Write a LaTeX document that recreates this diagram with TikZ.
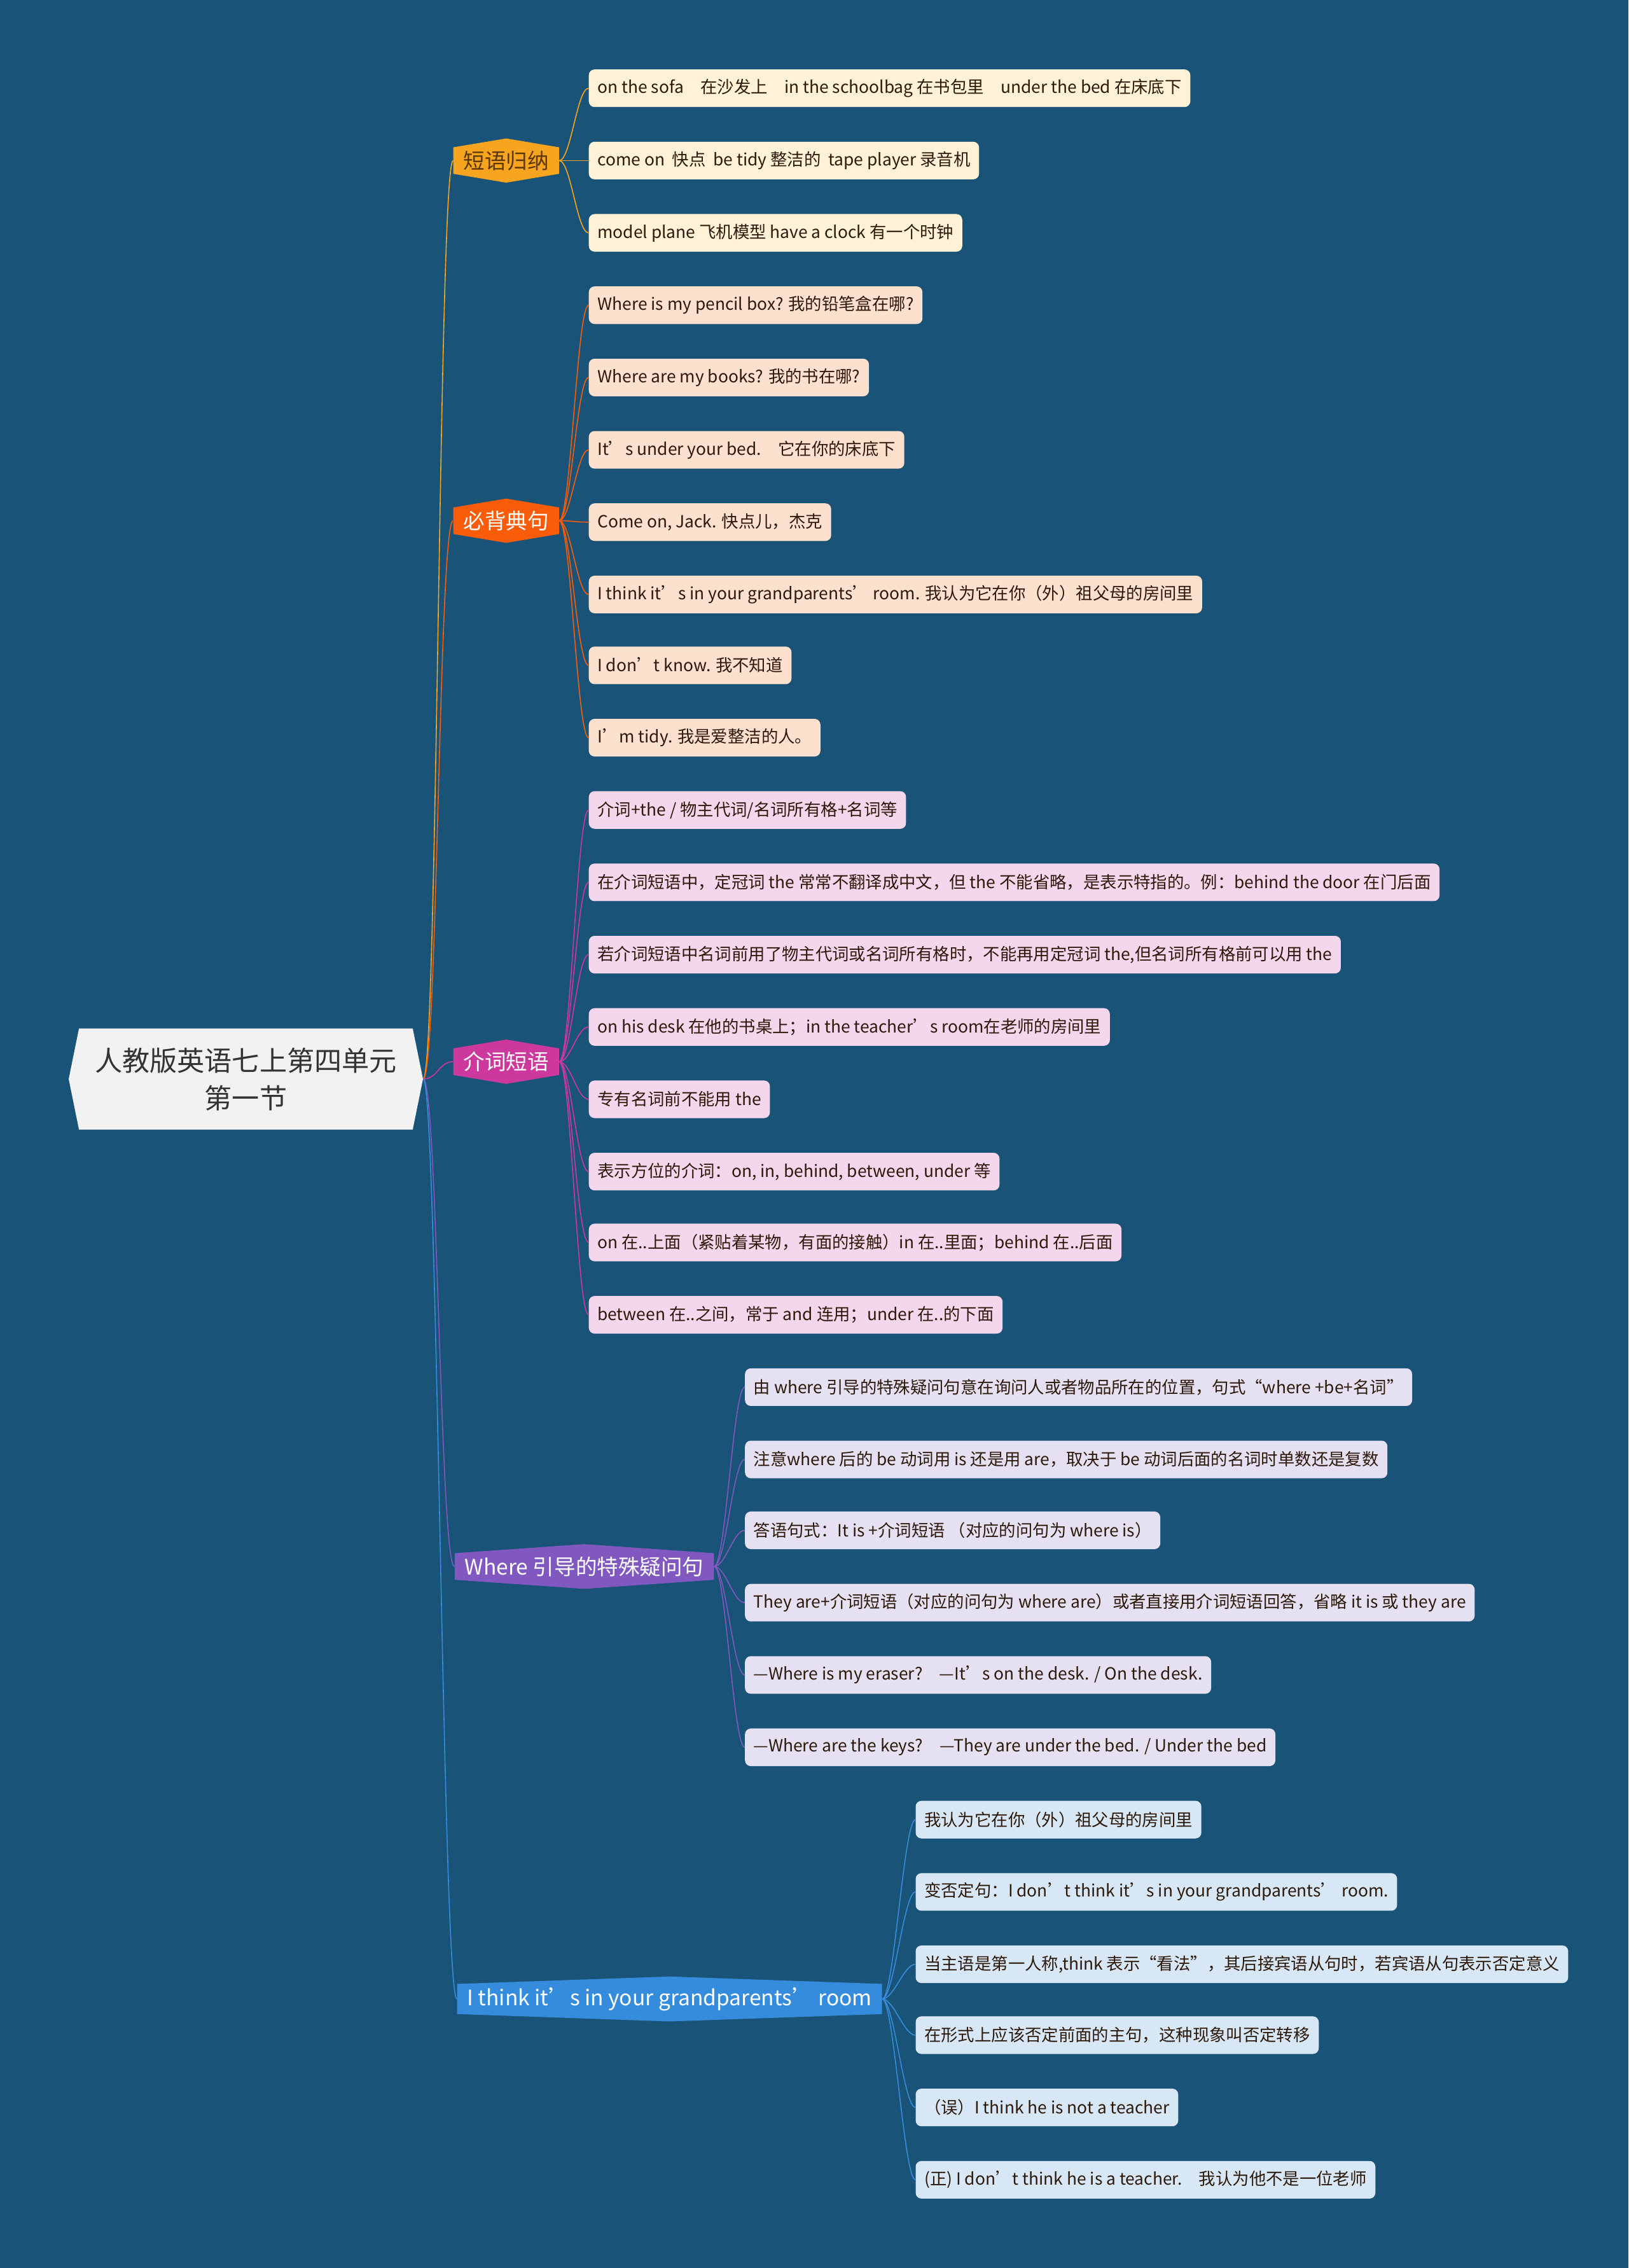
\documentclass[tikz,border=0pt]{standalone}
\usepackage{fontspec}
\setmainfont{Noto Sans CJK SC}
\usetikzlibrary{shapes.symbols}
\definecolor{bg}{RGB}{26,83,120}
\definecolor{rootfill}{RGB}{242,242,242}
\definecolor{cA}{RGB}{247,165,30}
\definecolor{lA}{RGB}{255,242,214}
\definecolor{cB}{RGB}{250,92,10}
\definecolor{lB}{RGB}{253,224,206}
\definecolor{cC}{RGB}{204,56,156}
\definecolor{lC}{RGB}{244,215,236}
\definecolor{cD}{RGB}{128,88,192}
\definecolor{lD}{RGB}{229,224,242}
\definecolor{cE}{RGB}{54,140,220}
\definecolor{lE}{RGB}{215,231,245}
\definecolor{ink}{RGB}{45,25,10}
\definecolor{brown}{RGB}{90,55,0}

\begin{document}
\begin{tikzpicture}[x=.05cm,y=-.05cm,
 leaf/.style={anchor=west,rounded corners=.2cm,inner xsep=.3cm,minimum height=1.3cm,text=ink,font=\fontsize{16.5}{20}\selectfont},
 branch/.style={shape=signal,signal to=north and south,minimum height=1.5cm,inner xsep=.35cm,text=white,font=\fontsize{21}{24}\selectfont},
 conn/.style={line width=1pt}]
 \fill[bg] (0,0) rectangle (1126,1568);
 % root
 \node[shape=signal,signal to=east and west,signal pointer angle=157,fill=rootfill,text=black!80,align=center,minimum width=12.25cm,minimum height=3.5cm,font=\fontsize{27}{37}\selectfont] (root) at (170,746) {人教版英语七上第四单元\\第一节};
 % branches
 \node[branch,signal pointer angle=161,fill=cA,text=brown] (bA) at (350,111) {短语归纳};
 \node[branch,signal pointer angle=161,fill=cB] (bB) at (350,360) {必背典句};
 \node[branch,signal pointer angle=161,fill=cC] (bC) at (350,734) {介词短语};
 \node[branch,signal pointer angle=172,fill=cD] (bD) at (404,1083) {Where 引导的特殊疑问句};
 \node[branch,signal pointer angle=176,fill=cE] (bE) at (463,1382) {I think it’s in your grandparents’ room};
 % 短语归纳
 \node[leaf,fill=lA] (a1) at (407,61) {on the sofa　在沙发上　in the schoolbag 在书包里　under the bed 在床底下};
 \node[leaf,fill=lA] (a2) at (407,111) {come on\ \ 快点\ \ be tidy 整洁的\ \ tape player 录音机};
 \node[leaf,fill=lA] (a3) at (407,161) {model plane 飞机模型 have a clock 有一个时钟};
 % 必背典句
 \node[leaf,fill=lB] (b1) at (407,211) {Where is my pencil box? 我的铅笔盒在哪?};
 \node[leaf,fill=lB] (b2) at (407,261) {Where are my books? 我的书在哪?};
 \node[leaf,fill=lB] (b3) at (407,311) {It’s under your bed.　它在你的床底下};
 \node[leaf,fill=lB] (b4) at (407,361) {Come on, Jack. 快点儿，杰克};
 \node[leaf,fill=lB] (b5) at (407,411) {I think it’s in your grandparents’ room. 我认为它在你（外）祖父母的房间里};
 \node[leaf,fill=lB] (b6) at (407,460) {I don’t know. 我不知道};
 \node[leaf,fill=lB] (b7) at (407,510) {I’m tidy. 我是爱整洁的人。};
 % 介词短语
 \node[leaf,fill=lC] (c1) at (407,560) {介词+the / 物主代词/名词所有格+名词等};
 \node[leaf,fill=lC] (c2) at (407,610) {在介词短语中，定冠词 the 常常不翻译成中文，但 the 不能省略，是表示特指的。例：behind the door 在门后面};
 \node[leaf,fill=lC] (c3) at (407,660) {若介词短语中名词前用了物主代词或名词所有格时，不能再用定冠词 the,但名词所有格前可以用 the};
 \node[leaf,fill=lC] (c4) at (407,710) {on his desk 在他的书桌上；in the teacher’s room在老师的房间里};
 \node[leaf,fill=lC] (c5) at (407,760) {专有名词前不能用 the};
 \node[leaf,fill=lC] (c6) at (407,810) {表示方位的介词：on, in, behind, between, under 等};
 \node[leaf,fill=lC] (c7) at (407,859) {on 在..上面（紧贴着某物，有面的接触）in 在..里面；behind 在..后面};
 \node[leaf,fill=lC] (c8) at (407,909) {between 在..之间，常于 and 连用；under 在..的下面};
 % Where
 \node[leaf,fill=lD] (d1) at (515,959) {由 where 引导的特殊疑问句意在询问人或者物品所在的位置，句式“where +be+名词”};
 \node[leaf,fill=lD] (d2) at (515,1009) {注意where 后的 be 动词用 is 还是用 are，取决于 be 动词后面的名词时单数还是复数};
 \node[leaf,fill=lD] (d3) at (515,1058) {答语句式：It is +介词短语 （对应的问句为 where is）};
 \node[leaf,fill=lD] (d4) at (515,1108) {They are+介词短语（对应的问句为 where are）或者直接用介词短语回答，省略 it is 或 they are};
 \node[leaf,fill=lD] (d5) at (515,1158) {—Where is my eraser?　—It’s on the desk. / On the desk.};
 \node[leaf,fill=lD] (d6) at (515,1208) {—Where are the keys?　—They are under the bed. / Under the bed};
 % I think
 \node[leaf,fill=lE] (e1) at (633,1258) {我认为它在你（外）祖父母的房间里};
 \node[leaf,fill=lE] (e2) at (633,1308) {变否定句：I don’t think it’s in your grandparents’ room.};
 \node[leaf,fill=lE] (e3) at (633,1358) {当主语是第一人称,think 表示“看法”，其后接宾语从句时，若宾语从句表示否定意义};
 \node[leaf,fill=lE] (e4) at (633,1407) {在形式上应该否定前面的主句，这种现象叫否定转移};
 \node[leaf,fill=lE] (e5) at (633,1457) {（误）I think he is not a teacher};
 \node[leaf,fill=lE] (e6) at (633,1507) {(正) I don’t think he is a teacher.　我认为他不是一位老师};
 % connectors
 \foreach \b/\c in {bA/cA,bB/cB,bC/cC,bD/cD,bE/cE}
  \draw[conn,\c] (root.east) .. controls +(10,0) and +(-10,0) .. (\b.west);
 \foreach \l in {a1,a2,a3} \draw[conn,cA] (bA.east) .. controls +(8,0) and +(-8,0) .. (\l.west);
 \foreach \l in {b1,b2,b3,b4,b5,b6,b7} \draw[conn,cB] (bB.east) .. controls +(8,0) and +(-8,0) .. (\l.west);
 \foreach \l in {c1,c2,c3,c4,c5,c6,c7,c8} \draw[conn,cC] (bC.east) .. controls +(8,0) and +(-8,0) .. (\l.west);
 \foreach \l in {d1,d2,d3,d4,d5,d6} \draw[conn,cD] (bD.east) .. controls +(8,0) and +(-8,0) .. (\l.west);
 \foreach \l in {e1,e2,e3,e4,e5,e6} \draw[conn,cE] (bE.east) .. controls +(8,0) and +(-8,0) .. (\l.west);
\end{tikzpicture}
\end{document}
